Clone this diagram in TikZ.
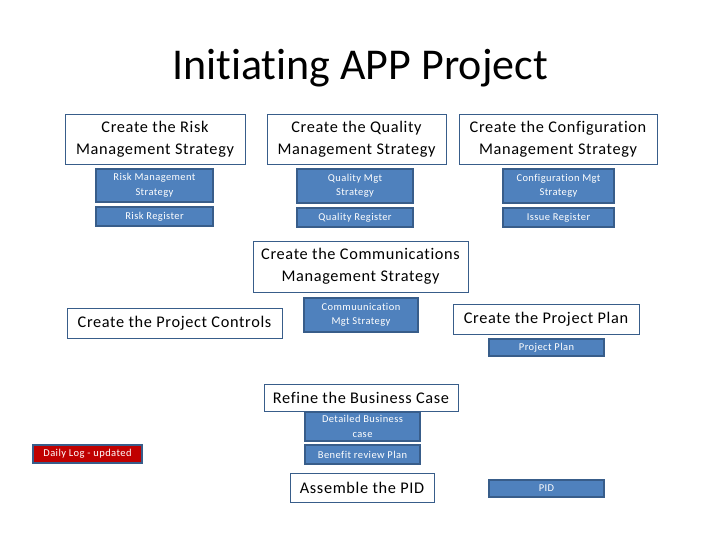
\documentclass[tikz,border=0pt]{standalone}
\usepackage{fontspec}
\setmainfont[Ligatures=CommonOff,LetterSpace=4]{Carlito}
\newfontfamily\titlefont[Ligatures=CommonOff]{Carlito}
\definecolor{bfill}{HTML}{4F81BD}
\definecolor{bline}{HTML}{385D8A}
\definecolor{dred}{HTML}{C00000}
\begin{document}
\begin{tikzpicture}[x=1pt,y=-1pt,
  wbox/.style={draw=bline,line width=0.8pt,fill=white,font=\fontsize{16.3}{22}\selectfont,align=center,inner sep=0},
  bbox/.style={draw=bline,line width=1.8pt,fill=bfill,text=white,font=\fontsize{10.5}{14.5}\selectfont,align=center,inner sep=0},
  rbox/.style={draw=bline,line width=1.8pt,fill=dred,text=white,font=\fontsize{10.5}{14.5}\selectfont,align=center,inner sep=0}]
\useasboundingbox (0,0) rectangle (720,540);
\node (title) at (360,68) {\titlefont\fontsize{44}{50}\selectfont Initiating APP Project};
\newcommand{\bx}[6]{\node[#1,minimum width=#4-#2,minimum height=#5-#3] (#6) at ({(#2+#4)/2},{(#3+#5)/2})}
\bx{wbox}{65}{114}{245}{164}{rs} {Create the Risk\\Management Strategy};
\bx{wbox}{267}{114}{446}{164}{qs} {Create the Quality\\Management Strategy};
\bx{wbox}{459}{114}{657}{164}{cs} {Create the Configuration\\Management Strategy};
\bx{bbox}{96}{169}{213}{202}{rms} {Risk Management\\Strategy};
\bx{bbox}{96}{207}{213}{226}{rr} {Risk Register};
\bx{bbox}{297}{169}{413}{203}{qms} {Quality Mgt\\Strategy};
\bx{bbox}{297}{208}{413}{227}{qr} {Quality Register};
\bx{bbox}{503}{169}{614}{203}{cms} {Configuration Mgt\\Strategy};
\bx{bbox}{503}{208}{614}{227}{ir} {Issue Register};
\bx{wbox}{253}{241}{468}{292}{com} {Create the Communications\\Management Strategy};
\bx{wbox}{67}{308}{282}{338}{pc} {Create the Project Controls};
\bx{bbox}{304}{298}{418}{332}{cms2} {Commuunication\\Mgt Strategy};
\bx{wbox}{453}{304}{639}{334}{pp} {Create the Project Plan};
\bx{bbox}{489}{339}{604}{356}{ppb} {Project Plan};
\bx{wbox}{264}{384}{458}{411}{rbc} {Refine the Business Case};
\bx{bbox}{305}{412}{420}{441}{dbc} {Detailed Business\\case};
\bx{bbox}{305}{445}{420}{464}{brp} {Benefit review Plan};
\bx{rbox}{33}{445}{142}{463}{dl} {Daily Log - updated};
\bx{wbox}{290}{473}{434}{502}{pid} {Assemble the PID};
\bx{bbox}{489}{480}{604}{497}{pidb} {PID};
\end{tikzpicture}
\end{document}
